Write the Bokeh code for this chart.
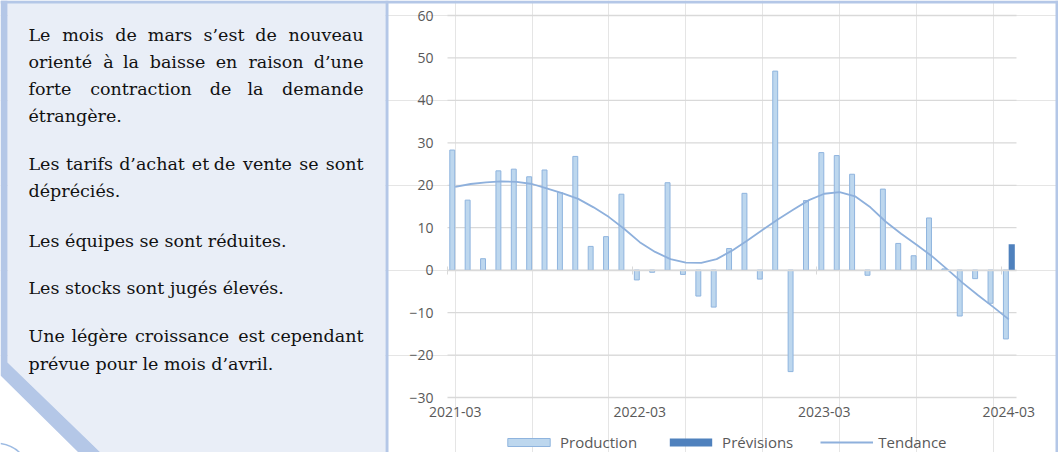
import numpy as np
import pandas as pd
from bokeh.plotting import figure
from bokeh.models import (ColumnDataSource, Range1d, FixedTicker, LinearAxis,
                          Legend, LegendItem)
from bokeh.transform import dodge
from bokeh.embed import file_html
from bokeh.resources import INLINE
from bokeh.core.properties import value

# ---------------- data ----------------
months = [str(m) for m in pd.period_range("2021-03", "2024-03", freq="M")]
production = [28.3, 16.5, 2.7, 23.4, 23.8, 22.0, 23.6, 18.3, 26.8, 5.6, 7.9, 17.9,
              -2.3, -0.5, 20.6, -1.0, -6.1, -8.7, 5.1, 18.1, -2.1, 46.9, -23.9, 16.4,
              27.7, 27.0, 22.6, -1.2, 19.1, 6.3, 3.4, 12.3, 0.3, -10.8, -2.0, -7.8, -16.2]
prevision_month = "2024-03"
prevision_value = 6.1
tendance = [19.6, 20.3, 20.7, 20.9, 20.8, 20.3, 19.2, 18.1, 16.8, 14.8, 12.5, 9.7,
            6.6, 4.3, 2.6, 1.8, 1.7, 2.6, 4.6, 7.0, 9.5, 12.0, 14.3, 16.5,
            18.0, 18.4, 17.4, 14.8, 11.4, 8.6, 6.0, 3.3, 0.2, -3.0, -5.9, -8.7, -11.6]
y_ticks = [-30, -20, -10, 0, 10, 20, 30, 40, 50, 60]
x_label_months = ["2021-03", "2022-03", "2023-03", "2024-03"]
series_names = ["Production", "Prévisions", "Tendance"]

text_lines = [
    "Le mois de mars s’est de nouveau",
    "orienté à la baisse en raison d’une",
    "forte contraction de la demande",
    "étrangère.",
    "Les tarifs d’achat et de vente se sont",
    "dépréciés.",
    "Les équipes se sont réduites.",
    "Les stocks sont jugés élevés.",
    "Une légère croissance est cependant",
    "prévue pour le mois d’avril.",
]

# ---------------- styles / layout (pixels) ----------------
W, H = 1058, 452
PLOT_L, PLOT_R, PLOT_T, PLOT_B = 447, 1016, 15, 397
BLUE = "#B4C7E7"
PANEL = "#E9EEF7"
GRID = "#D9D9D9"
LABEL = "#595959"
SANS = "Open Sans"
SERIF = "DejaVu Serif"

n = len(months)
ux = n / (PLOT_R - PLOT_L)
uy = (y_ticks[-1] - y_ticks[0]) / (PLOT_B - PLOT_T)
x_range = Range1d(-0.5 - PLOT_L * ux, n - 0.5 + (W - PLOT_R) * ux)
y_range = Range1d(y_ticks[0] - (H - PLOT_B) * uy, y_ticks[-1] + PLOT_T * uy)
xb = (-0.5, n - 0.5)

p = figure(width=W, height=H, x_range=x_range, y_range=y_range,
           x_axis_location=None, y_axis_location=None, min_border=0,
           output_backend="svg", toolbar_location=None, outline_line_color=None,
           background_fill_color="white", border_fill_color="white")
p.extra_x_ranges = {"px": Range1d(0, W)}
p.extra_y_ranges = {"py": Range1d(H, 0)}
px = dict(x_range_name="px", y_range_name="py")

# ---------------- left text panel & frame decorations ----------------
p.patch([7, 385, 385, 100, 7], [0, 0, H, H, 362], fill_color=PANEL, line_color=None, **px)
p.patch([0, 7, 7, 100, 78, 0], [0, 0, 362, H, H, 375], fill_color=BLUE, line_color=None, **px)
p.patch([385, 388, 388, 385], [0, 0, H, H], fill_color=BLUE, line_color=None, **px)
p.patch([W - 3, W, W, W - 3], [0, 0, H, H], fill_color=BLUE, line_color=None, **px)
p.patch([0, W, W, 0], [0, 0, 3, 3], fill_color=BLUE, line_color=None, **px)
p.bezier(x0=[0], y0=[443], x1=[19], y1=[452], cx0=[7], cy0=[444], cx1=[14], cy1=[447],
         line_color="#9DBBE3", line_width=1.5, **px)

baselines = [34, 61, 88, 115, 163, 190, 240, 287, 335, 363]
TXT_L, TXT_R = 28, 363
mid_centers = {
    0: [82.5, 125.5, 169.5, 223.5, 265.5],
    1: [108, 130.5, 177, 226, 275.5],
    2: [140.5, 220, 255],
    4: [89, 151.5, 200, 224, 267, 308.5],
    8: [99, 181.5, 251],
}
Ld, Cd, Rd = (dict(x=[], y=[], t=[]) for _ in range(3))
for i, (line, yb) in enumerate(zip(text_lines, baselines)):
    if i in mid_centers:
        words = line.split(" ")
        Ld["x"].append(TXT_L); Ld["y"].append(yb); Ld["t"].append(words[0])
        Rd["x"].append(TXT_R); Rd["y"].append(yb); Rd["t"].append(words[-1])
        for w, c in zip(words[1:-1], mid_centers[i]):
            Cd["x"].append(c); Cd["y"].append(yb); Cd["t"].append(w)
    else:
        Ld["x"].append(TXT_L); Ld["y"].append(yb); Ld["t"].append(line)
for d, al in ((Ld, "left"), (Cd, "center"), (Rd, "right")):
    p.text(x="x", y="y", text="t", source=ColumnDataSource(d), text_align=al,
           text_baseline="alphabetic", text_font=value(SERIF), text_font_size="17.5px",
           text_color="#111111", **px)

# ---------------- chart ----------------
grid_src = ColumnDataSource(dict(y=y_ticks, x0=[xb[0]] * len(y_ticks), x1=[xb[1]] * len(y_ticks)))
p.segment(x0="x0", x1="x1", y0="y", y1="y", source=grid_src, line_color=GRID, line_width=1.3)

x = list(range(n))
prev_col = [prevision_value if m == prevision_month else np.nan for m in months]
src = ColumnDataSource(dict(x=x, production=production, previsions=prev_col, tendance=tendance))

r_prod = p.vbar(x=dodge("x", -0.19, range=p.x_range), top="production", bottom=0, width=0.32,
                source=src, fill_color="#BDD7EE", line_color="#8FB4DE", line_width=1)
r_prev = p.vbar(x=dodge("x", 0.19, range=p.x_range), top="previsions", bottom=0, width=0.40,
                source=src, fill_color="#4F81BD", line_color=None)
r_tend = p.line(x="x", y="tendance", source=src, line_color="#8EB0DC", line_width=1.8)

ya = LinearAxis(fixed_location=xb[0], bounds=(y_ticks[0], y_ticks[-1]),
                ticker=FixedTicker(ticks=y_ticks), axis_line_color=None,
                major_tick_line_color=None, minor_tick_line_color=None,
                major_tick_out=0, major_tick_in=0, minor_tick_out=0, minor_tick_in=0,
                major_label_standoff=14, major_label_text_font=SANS,
                major_label_text_font_size="14px", major_label_text_color=LABEL)
p.add_layout(ya, "left")

label_idx = [months.index(m) for m in x_label_months]
xa = LinearAxis(fixed_location=y_ticks[0], bounds=xb,
                ticker=FixedTicker(ticks=label_idx),
                major_label_overrides={i: months[i] for i in label_idx},
                axis_line_color=None, major_tick_line_color=None, minor_tick_line_color=None,
                major_tick_out=0, major_tick_in=0, minor_tick_out=0, minor_tick_in=0,
                major_label_standoff=9, major_label_text_font=SANS,
                major_label_text_font_size="14px", major_label_text_color=LABEL)
p.add_layout(xa, "below")

# category axis crossing at zero, tick marks between categories
za = LinearAxis(fixed_location=0, bounds=xb, ticker=FixedTicker(ticks=[i - 0.5 for i in label_idx]),
                axis_line_color=GRID, axis_line_width=1.5,
                major_tick_line_color=GRID, major_tick_in=4, major_tick_out=4,
                minor_tick_line_color=None, minor_tick_out=0, minor_tick_in=0,
                major_label_text_font_size="0px", major_label_text_alpha=0)
p.add_layout(za, "below")

legend = Legend(items=[LegendItem(label=series_names[0], renderers=[r_prod]),
                       LegendItem(label=series_names[1], renderers=[r_prev]),
                       LegendItem(label=series_names[2], renderers=[r_tend])],
                orientation="horizontal", location=(502, 0),
                glyph_width=53, glyph_height=10, label_standoff=5, spacing=27,
                padding=0, margin=0, border_line_color=None, background_fill_alpha=0,
                label_text_font=SANS, label_text_font_size="15px", label_text_color=LABEL,
                label_height=16)
p.add_layout(legend, "center")

open("out.html", "w").write(file_html(p, INLINE))
